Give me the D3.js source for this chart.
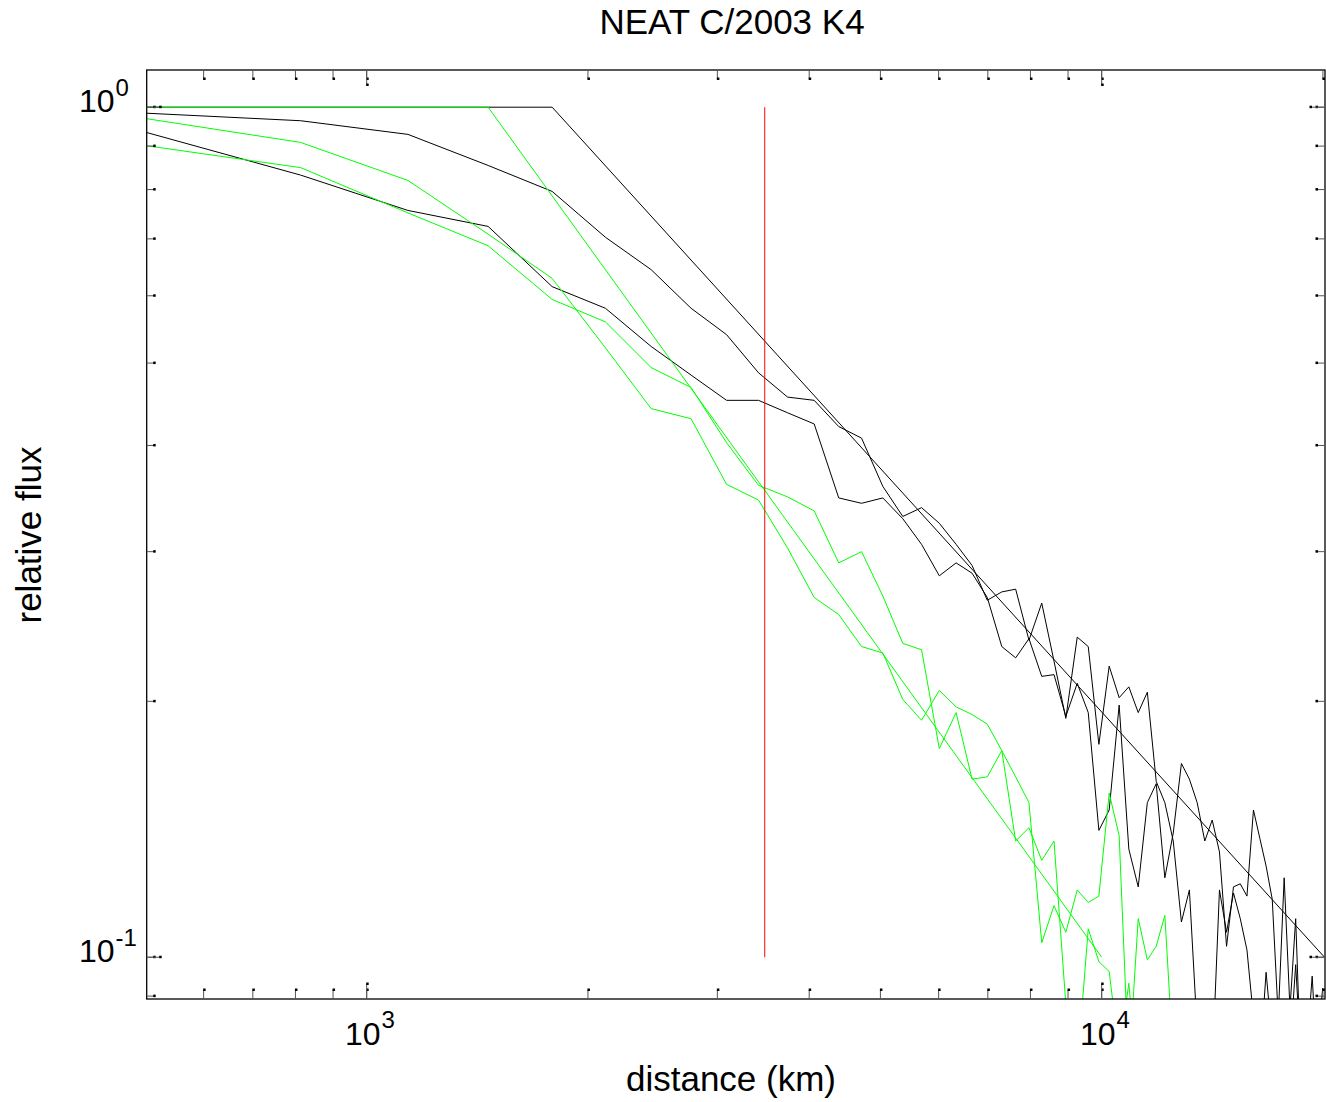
<!DOCTYPE html>
<html>
<head>
<meta charset="utf-8">
<script src="https://cdn.jsdelivr.net/npm/d3@7"></script>
<style>
  body { margin: 0; background: #fff; }
  text { font-family: "Liberation Sans", Arial, Helvetica, sans-serif; fill: #000; }
</style>
</head>
<body>
<svg id="chart" width="1326" height="1102"></svg>
<script>
// ring distances (km), one per profile sample
var distance = [488, 813, 1138, 1463, 1788, 2113, 2438, 2763, 3088, 3413, 3738, 4063, 4388, 4713, 5038,
  5363, 5688, 6013, 6338, 6663, 6988, 7313, 7638, 7963, 8288, 8613, 8938, 9263, 9588, 9913,
  10238, 10563, 10888, 11213, 11538, 11863, 12188, 12513, 12838, 13163, 13488, 13813, 14138, 14463, 14788,
  15113, 15438, 15763, 16088, 16413, 16738, 17063, 17388, 17713, 18038, 18363, 18688, 19013, 19338, 19663, 19988];

// measured profiles (black)
var blackUpper = [0.985, 0.964, 0.929, 0.854, 0.796, 0.703, 0.644, 0.580, 0.540, 0.487, 0.456, 0.452, 0.421, 0.408, 0.358,
  0.330, 0.338, 0.324, 0.306, 0.289, 0.263, 0.269, 0.271, 0.236, 0.261, 0.223, 0.191, 0.238, 0.232, 0.178,
  0.220, 0.202, 0.208, 0.194, 0.205, 0.161, 0.152, 0.137, 0.110, 0.120, 0.082, 0.070, 0.074, 0.120, 0.107,
  0.119, 0.111, 0.102, 0.085, 0.075, 0.096, 0.080, 0.076, 0.072, 0.078, 0.098, 0.075, 0.072, 0.078, 0.080, 0.092];
var blackLower = [0.940, 0.832, 0.756, 0.724, 0.615, 0.580, 0.523, 0.484, 0.452, 0.452, 0.437, 0.424, 0.347, 0.342, 0.347,
  0.328, 0.306, 0.281, 0.291, 0.283, 0.265, 0.232, 0.225, 0.237, 0.214, 0.215, 0.192, 0.210, 0.194, 0.141,
  0.149, 0.198, 0.134, 0.121, 0.152, 0.160, 0.124, 0.140, 0.169, 0.162, 0.152, 0.137, 0.145, 0.133, 0.103,
  0.121, 0.122, 0.118, 0.149, 0.138, 0.128, 0.117, 0.085, 0.124, 0.087, 0.111, 0.072, 0.078, 0.095, 0.073, 0.085];

// measured profiles (green)
var greenUpper = [0.973, 0.909, 0.820, 0.709, 0.629, 0.521, 0.442, 0.430, 0.360, 0.345, 0.303, 0.265, 0.253, 0.232, 0.228,
  0.201, 0.190, 0.206, 0.197, 0.193, 0.188, 0.175, 0.163, 0.152, 0.104, 0.115, 0.107, 0.120, 0.116, 0.118,
  0.156, 0.139, 0.074, 0.111, 0.0993, 0.103, 0.112, 0.076];
var greenLower = [0.904, 0.849, 0.751, 0.687, 0.594, 0.559, 0.494, 0.468, 0.403, 0.359, 0.348, 0.335, 0.291, 0.300, 0.266,
  0.234, 0.230, 0.176, 0.194, 0.162, 0.163, 0.175, 0.137, 0.142, 0.130, 0.137, 0.088, 0.074, 0.108, 0.0988,
  0.0962, 0.077, 0.0932, 0.070];

// model curves: flat core then power law
var blackModelDist = [488, 1788, 20100];
var blackModel = [1, 1, 0.1];
var greenModelDist = [488, 1463, 10000];
var greenModel = [1, 1, 0.1];

// vertical marker
var markerDist = [3480, 3480];
var markerFlux = [0.1, 1];

// ticks
var xMajor = [1000, 10000];
var xMinor = [600, 700, 800, 900, 2000, 3000, 4000, 5000, 6000, 7000, 8000, 9000, 20000];
var yMajor = [0.1, 1];
var yMinor = [0.09, 0.2, 0.3, 0.4, 0.5, 0.6, 0.7, 0.8, 0.9];
var xTickExp = ["3", "4"];
var yTickExp = ["-1", "0"];

(function() {
  var svg = d3.select("#chart");
  var x0 = 146.7, x1 = 1325, y0 = 70, y1 = 999; // plot box

  var x = d3.scaleLog().domain([502, 20130]).range([x0, x1]);
  var y = d3.scaleLog().domain([0.0893, 1.106]).range([y1, y0]);

  svg.append("defs").append("clipPath").attr("id", "plot-clip")
    .append("rect")
    .attr("x", x0).attr("y", y0)
    .attr("width", x1 - x0).attr("height", y1 - y0);

  var line = d3.line()
    .x(function(d) { return x(d[0]); })
    .y(function(d) { return y(d[1]); });

  var plot = svg.append("g").attr("clip-path", "url(#plot-clip)");

  function drawSeries(xs, ys, color) {
    plot.append("path")
      .datum(d3.zip(xs, ys))
      .attr("d", line)
      .attr("fill", "none")
      .attr("stroke", color)
      .attr("stroke-width", 1);
  }

  drawSeries(blackModelDist, blackModel, "#000");
  drawSeries(distance, blackUpper, "#000");
  drawSeries(distance, blackLower, "#000");
  drawSeries(greenModelDist, greenModel, "#00ff00");
  drawSeries(distance, greenUpper, "#00ff00");
  drawSeries(distance, greenLower, "#00ff00");
  drawSeries(markerDist, markerFlux, "#ff0000");

  // frame
  svg.append("rect")
    .attr("x", x0).attr("y", y0)
    .attr("width", x1 - x0).attr("height", y1 - y0)
    .attr("fill", "none").attr("stroke", "#000").attr("stroke-width", 1.3);

  // inward ticks on all four sides
  var ticks = svg.append("g");
  function tickX(v, len) {
    var px = x(v);
    [[y1, -1], [y0, 1]].forEach(function(s) {
      ticks.append("line")
        .attr("x1", px).attr("x2", px)
        .attr("y1", s[0]).attr("y2", s[0] + s[1] * len)
        .attr("stroke", "#555").attr("stroke-width", 1);
      ticks.append("rect")
        .attr("x", px - 0.5).attr("y", s[0] + s[1] * len - 1.5)
        .attr("width", 2.5).attr("height", 2.5).attr("fill", "#000");
    });
  }
  function tickY(v, len) {
    var py = y(v);
    [[x0, 1], [x1, -1]].forEach(function(s) {
      ticks.append("line")
        .attr("y1", py).attr("y2", py)
        .attr("x1", s[0]).attr("x2", s[0] + s[1] * len)
        .attr("stroke", "#555").attr("stroke-width", 1);
      ticks.append("rect")
        .attr("y", py - 1.5).attr("x", s[0] + s[1] * len - 1.5)
        .attr("width", 2.5).attr("height", 2.5).attr("fill", "#000");
    });
  }
  xMinor.forEach(function(v) { tickX(v, 9); });
  xMajor.forEach(function(v) { tickX(v, 9); tickX(v, 15); });
  yMinor.forEach(function(v) { tickY(v, 8); });
  yMajor.forEach(function(v) { tickY(v, 8); tickY(v, 14); });

  // tick labels: 10 with superscript exponent
  xMajor.forEach(function(v, i) {
    var t = svg.append("text")
      .attr("x", x(v) - 21.7).attr("y", 1045)
      .attr("font-size", 32)
      .text("10");
    t.append("tspan").attr("dx", 1).attr("dy", -17).attr("font-size", 24).text(xTickExp[i]);
  });
  yMajor.forEach(function(v, i) {
    var t = svg.append("text")
      .attr("x", 79).attr("y", y(v) + 4.7)
      .attr("font-size", 32)
      .text("10");
    t.append("tspan").attr("dx", 1).attr("dy", -15.5).attr("font-size", 24).text(yTickExp[i]);
  });

  // title and axis labels
  svg.append("text")
    .attr("x", 732).attr("y", 34)
    .attr("text-anchor", "middle")
    .attr("font-size", 35)
    .text("NEAT C/2003 K4");

  svg.append("text")
    .attr("x", 731).attr("y", 1091)
    .attr("text-anchor", "middle")
    .attr("font-size", 35)
    .text("distance (km)");

  svg.append("text")
    .attr("transform", "translate(41,535) rotate(-90)")
    .attr("text-anchor", "middle")
    .attr("font-size", 35)
    .text("relative flux");
})();
</script>
</body>
</html>
